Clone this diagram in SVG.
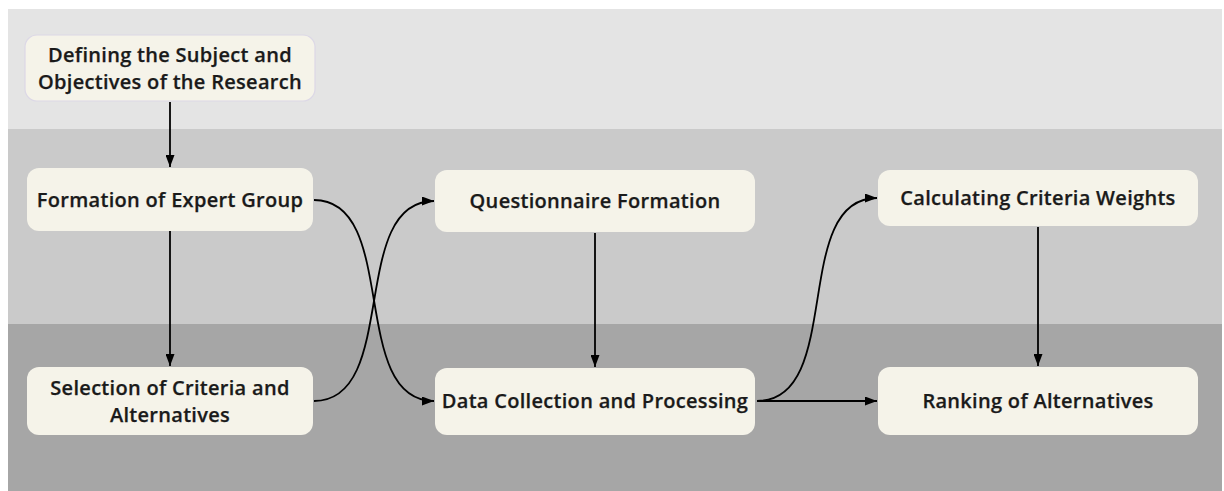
<svg xmlns="http://www.w3.org/2000/svg" width="1224" height="491" viewBox="0 0 1224 491">
<style>
.node rect{fill:#f5f3e9;}
.node text{font-family:"Open Sans","Noto Sans",sans-serif;font-weight:600;font-size:20px;letter-spacing:0.3px;fill:#1a1a1a;stroke:#1a1a1a;stroke-width:0.25px;text-anchor:middle;}
.edge{fill:none;stroke:#000;stroke-width:1.8;marker-end:url(#arr);}
</style>
<defs>
<marker id="arr" viewBox="0 0 12 9" refX="12" refY="4.5" markerWidth="12" markerHeight="9" markerUnits="userSpaceOnUse" orient="auto">
<path d="M0,0 L12,4.5 L0,9 z" fill="#000"/>
</marker>
</defs>
<rect width="1224" height="491" fill="#fff"/>
<g id="bands">
<rect x="8" y="9" width="1214" height="120" fill="#e4e4e4"/>
<rect x="8" y="129" width="1214" height="195" fill="#cacaca"/>
<rect x="8" y="324" width="1214" height="167" fill="#a6a6a6"/>
</g>
<g id="connectors">
<path class="edge" d="M314,200 C400,200 348,401 434,401"/>
<path class="edge" d="M314,401 C400,401 348,201 434,201"/>
<path class="edge" d="M170,102 V167"/>
<path class="edge" d="M170,231 V366"/>
<path class="edge" d="M595,233 V367"/>
<path class="edge" d="M757,401 C845,401 790,198 877,198"/>
<path class="edge" d="M757,401 H877"/>
<path class="edge" d="M1038,227 V366"/>
</g>
<g id="n1" class="node"><rect x="25" y="35" width="290" height="66" rx="12" stroke="#dcd8e6" stroke-width="1.2"/><text x="170" y="62">Defining the Subject and</text><text x="170" y="89">Objectives of the Research</text></g>
<g id="n2" class="node"><rect x="27" y="168" width="286" height="63" rx="12"/><text x="170" y="207">Formation of Expert Group</text></g>
<g id="n3" class="node"><rect x="27" y="367" width="286" height="68" rx="12"/><text x="170" y="395">Selection of Criteria and</text><text x="170" y="422">Alternatives</text></g>
<g id="n4" class="node"><rect x="435" y="170" width="320" height="62" rx="12"/><text x="595" y="208">Questionnaire Formation</text></g>
<g id="n5" class="node"><rect x="435" y="368" width="320" height="67" rx="12"/><text x="595" y="408">Data Collection and Processing</text></g>
<g id="n6" class="node"><rect x="878" y="170" width="320" height="56" rx="12"/><text x="1038" y="205">Calculating Criteria Weights</text></g>
<g id="n7" class="node"><rect x="878" y="367" width="320" height="68" rx="12"/><text x="1038" y="408">Ranking of Alternatives</text></g>
</svg>
